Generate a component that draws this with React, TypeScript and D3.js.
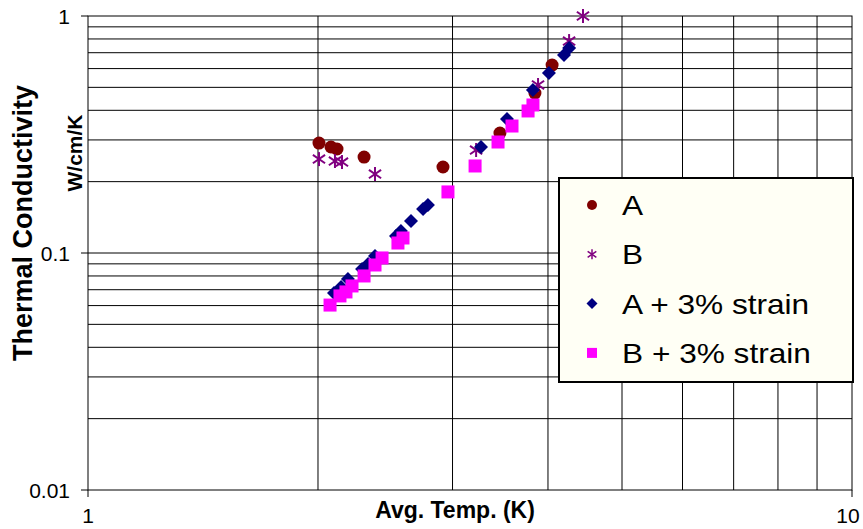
import * as d3 from "d3";

// ── Data ──────────────────────────────────────────────────────────────────────

const A_T = [2.006, 2.08, 2.118, 2.298, 2.915, 3.461, 3.846, 4.05];
const A_K = [0.291, 0.28, 0.2747, 0.254, 0.2306, 0.3209, 0.473, 0.621];

const B_T = [2.006, 2.105, 2.15, 2.375, 3.221, 3.882, 4.263, 4.445];
const B_K = [0.249, 0.2444, 0.242, 0.2154, 0.272, 0.5116, 0.784, 1.0];

const AS_T = [2.099, 2.144, 2.189, 2.284, 2.326, 2.375, 2.53, 2.568, 2.647, 2.745, 2.786, 3.269, 3.535, 3.823, 4.012, 4.198, 4.263];
const AS_K = [0.0678, 0.0719, 0.0777, 0.0856, 0.0899, 0.0971, 0.1179, 0.1238, 0.1365, 0.1533, 0.1594, 0.28, 0.3676, 0.487, 0.5746, 0.6846, 0.7328];

const BS_T = [2.074, 2.137, 2.176, 2.216, 2.298, 2.375, 2.426, 2.545, 2.584, 2.959, 3.211, 3.441, 3.589, 3.767, 3.823];
const BS_K = [0.0603, 0.0659, 0.0685, 0.0726, 0.08, 0.089, 0.0953, 0.1102, 0.1157, 0.181, 0.2329, 0.294, 0.3434, 0.3975, 0.4212];

const X_MAJOR = [1, 10];
const Y_MAJOR = [0.01, 0.1, 1];
const X_GRID = [2, 3, 4, 5, 6, 7, 8, 9];
const Y_GRID = [0.02, 0.03, 0.04, 0.05, 0.06, 0.07, 0.08, 0.09, 0.1, 0.2, 0.3, 0.4, 0.5, 0.6, 0.7, 0.8, 0.9];

const LEGEND = ["A", "B", "A + 3% strain", "B + 3% strain"];

// ── Styles ────────────────────────────────────────────────────────────────────

const FONT = "'Liberation Sans', Arial, Helvetica, sans-serif";
const C_A = "#800000";
const C_B = "#800080";
const C_AS = "#000080";
const C_BS = "#FF00FF";

const W = 863, H = 529;
const x = d3.scaleLog().domain([1, 10]).range([88, 852]);
const y = d3.scaleLog().domain([0.01, 1]).range([490, 16]);

const zip = (ts: number[], ks: number[]) => ts.map((t, i) => ({ t, k: ks[i] }));

function Star({ cx, cy, s, sw }: { cx: number; cy: number; s: number; sw: number }) {
  const dx = s * 0.87, dy = s * 0.6;
  return (
    <g stroke={C_B} strokeWidth={sw} fill="none">
      <line x1={cx} y1={cy - s} x2={cx} y2={cy + s} />
      <line x1={cx - dx} y1={cy - dy} x2={cx + dx} y2={cy + dy} />
      <line x1={cx - dx} y1={cy + dy} x2={cx + dx} y2={cy - dy} />
    </g>
  );
}

function Marker({ i, cx, cy, big }: { i: number; cx: number; cy: number; big: boolean }) {
  const r = big ? 6.5 : 5;
  if (i === 0) return <circle cx={cx} cy={cy} r={r} fill={C_A} />;
  if (i === 1) return <Star cx={cx} cy={cy} s={big ? 7 : 5} sw={big ? 2 : 1.5} />;
  if (i === 2) {
    const d = big ? 7 : 5.5;
    return <path d={`M${cx},${cy - d}L${cx + d},${cy}L${cx},${cy + d}L${cx - d},${cy}Z`} fill={C_AS} />;
  }
  const h = big ? 6.5 : 5;
  return <rect x={cx - h} y={cy - h} width={h * 2} height={h * 2} fill={C_BS} />;
}

export default function App() {
  const series = [zip(A_T, A_K), zip(B_T, B_K), zip(AS_T, AS_K), zip(BS_T, BS_K)];
  const [x0, x1] = x.range();
  const [y0, y1] = y.range();

  return (
    <svg width={W} height={H} style={{ position: "absolute", left: 0, top: 0, background: "#fff" }}
      fontFamily={FONT}>
      {/* grid */}
      <g stroke="#000" strokeWidth={1}>
        {Y_GRID.map(v => <line key={"gy" + v} x1={x0} x2={x1} y1={y(v)} y2={y(v)} />)}
        {X_GRID.map(v => <line key={"gx" + v} x1={x(v)} x2={x(v)} y1={y0} y2={y1} />)}
        <rect x={x0} y={y1} width={x1 - x0} height={y0 - y1} fill="none" />
      </g>

      {/* ticks */}
      <g stroke="#000" strokeWidth={1}>
        {Y_MAJOR.map(v => <line key={"ty" + v} x1={x0 - 7} x2={x0} y1={y(v)} y2={y(v)} />)}
        {X_MAJOR.map(v => <line key={"tx" + v} x1={x(v)} x2={x(v)} y1={y0} y2={y0 + 7} />)}
      </g>
      <g fontSize={21} fill="#000">
        {Y_MAJOR.map(v => (
          <text key={"ly" + v} x={70} y={y(v)} dy="0.36em" textAnchor="end">{String(v)}</text>
        ))}
        {X_MAJOR.map(v => (
          <text key={"lx" + v} x={Math.min(x(v), 848)} y={523} textAnchor="middle">{String(v)}</text>
        ))}
      </g>

      {/* axis titles */}
      <text x={455} y={518} textAnchor="middle" fontSize={23} fontWeight="bold">Avg. Temp. (K)</text>
      <text transform="translate(32,223) rotate(-90)" textAnchor="middle" fontSize={27} fontWeight="bold">
        Thermal Conductivity
      </text>
      <text transform="translate(82,153) rotate(-90)" textAnchor="middle" fontSize={21} fontWeight="bold">
        W/cm/K
      </text>

      {/* points */}
      {series.map((pts, i) => (
        <g key={"s" + i}>
          {pts.map((p, j) => <Marker key={j} i={i} cx={x(p.t)} cy={y(p.k)} big />)}
        </g>
      ))}

      {/* legend */}
      <g>
        <rect x={559} y={178} width={294} height={204} fill="#FFFFF5" stroke="#000" strokeWidth={2} />
        {LEGEND.map((name, i) => {
          const ly = 205 + i * 49.3;
          return (
            <g key={name}>
              <Marker i={i} cx={592} cy={ly} big={false} />
              <text transform={`translate(622,${ly}) scale(1.13,1)`} dy="0.36em" fontSize={28}>{name}</text>
            </g>
          );
        })}
      </g>
    </svg>
  );
}
